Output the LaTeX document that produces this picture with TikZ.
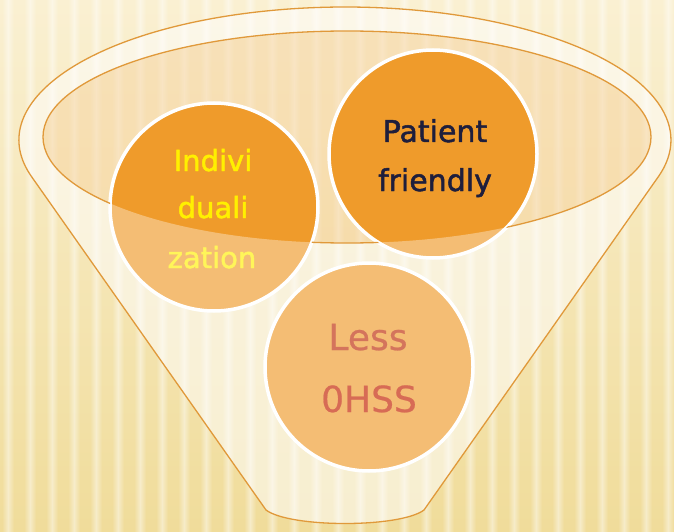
\documentclass[tikz,border=0pt]{standalone}
\usepackage{fontspec}
\setmainfont{DejaVu Sans}
\newfontfamily\semibold[FakeBold=1.6]{DejaVu Sans}
\newfontfamily\lessfont[FakeBold=0.6]{DejaVu Sans}
\usetikzlibrary{fadings}
\tikzfading[name=stripefade, left color=transparent!100, right color=transparent!100, middle color=transparent!0]
\definecolor{bgtop}{HTML}{FAF0D2}
\definecolor{bgbot}{HTML}{F0DC9A}
\definecolor{lineor}{HTML}{E0993A}
\definecolor{circor}{HTML}{EF9B2B}
\definecolor{navy}{HTML}{1E1E3C}
\definecolor{lessred}{HTML}{D4745C}
\definecolor{indyel}{HTML}{FFF000}
\tikzset{
  circ/.style={circle, minimum size=208pt, inner sep=0pt, fill=circor},
  ring/.style={draw=white, line width=3.5pt},
  outline/.style={draw=lineor, line width=1.3pt},
  lbl/.style={anchor=base, inner sep=0pt}
}
\def\funnelpath{(266,-510) -- (31.6,-176.7) arc[start angle=196,end angle=-16,x radius=326,y radius=133] -- (424,-510) .. controls (400,-528) and (290,-528) .. (266,-510) -- cycle}
\def\innerellipse{(347,-137) ellipse[x radius=304, y radius=106]}
\begin{document}
\begin{tikzpicture}[x=1pt,y=1pt]
\useasboundingbox (0,0) rectangle (674,-532);
% background
\fill[top color=bgtop, bottom color=bgbot] (0,0) rectangle (674,-532);
\foreach \i in {0,...,30}
  \fill[white, path fading=stripefade, opacity=0.45] (\i*22+2,0) rectangle (\i*22+14,-532);
% funnel body
\fill[white, opacity=0.28] \funnelpath;
\fill[circor, opacity=0.2] \innerellipse;
% circles
\node[circ] (indiv) at (214,-207) {};
\node[circ] (patient) at (433,-154) {};
\node[circ] (less) at (369,-367) {};
% texts in the upper layer
\node[lbl, font=\semibold\fontsize{29}{29}\selectfont, text=indyel] (t1) at (213,-171) {Indivi};
\node[lbl, font=\semibold\fontsize{29}{29}\selectfont, text=indyel] (t2) at (213,-218) {duali};
\node[lbl, font=\semibold\fontsize{29}{29}\selectfont, text=indyel] (t3) at (212,-268) {zation};
\node[lbl, font=\semibold\fontsize{30}{30}\selectfont, text=navy] (p1) at (435,-142) {Patient};
\node[lbl, font=\semibold\fontsize{30}{30}\selectfont, text=navy] (p2) at (435,-191) {friendly};
% translucent lower part of funnel
\fill[white, opacity=0.35, even odd rule] \funnelpath \innerellipse;
% circle rims
\draw[ring] (indiv.center) circle[radius=104];
\draw[ring] (patient.center) circle[radius=104];
\draw[ring] (less.center) circle[radius=104];
% outlines
\begin{scope}[even odd rule]
  \clip (0,0) rectangle (674,-532)
    (indiv.center) circle[radius=104]
    (patient.center) circle[radius=104]
    (less.center) circle[radius=104];
  \path[outline] \innerellipse;
\end{scope}
\path[outline] \funnelpath;
% lower text
\node[lbl, font=\lessfont\fontsize{36}{36}\selectfont, text=lessred] (l1) at (368,-350) {Less};
\node[lbl, font=\lessfont\fontsize{36}{36}\selectfont, text=lessred!92!red] (l2) at (369,-412) {0HSS};
\end{tikzpicture}
\end{document}
